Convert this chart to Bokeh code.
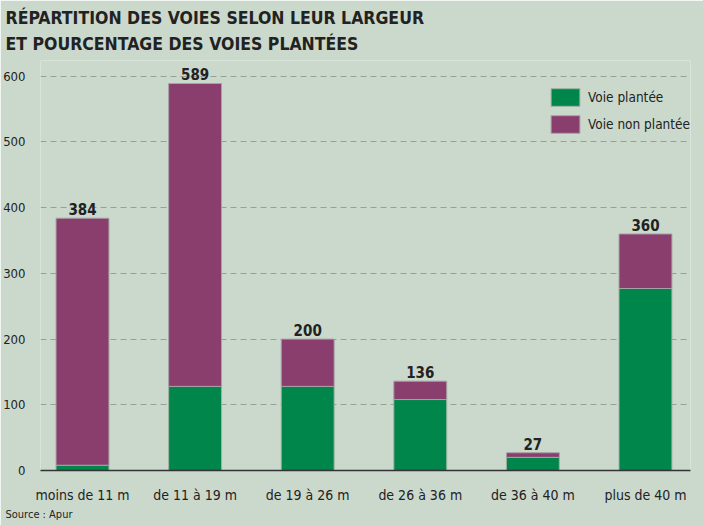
from bokeh.plotting import figure
from bokeh.models import ColumnDataSource, Range1d, FixedTicker, Legend, LegendItem, Title
from bokeh.core.properties import value
from bokeh.embed import file_html
from bokeh.resources import INLINE

categories = ["moins de 11 m", "de 11 à 19 m", "de 19 à 26 m", "de 26 à 36 m", "de 36 à 40 m", "plus de 40 m"]
totals = [384, 589, 200, 136, 27, 360]
plantee = [8, 128, 128, 108, 20, 277]
non_plantee = [t - g for t, g in zip(totals, plantee)]
y_ticks = [0, 100, 200, 300, 400, 500, 600]

BG = "#cbd9cc"
GREEN = "#00854a"
PURPLE = "#8a3e6e"
TXT = "#222222"
FONT = "DejaVu Sans Condensed, Roboto Condensed, Roboto"

xs = list(range(len(categories)))
src = ColumnDataSource(dict(
    x=xs, plantee=plantee, non=non_plantee, total=totals,
    label=[str(t) for t in totals],
))

p = figure(width=703, height=525, output_backend="svg", toolbar_location=None,
           x_range=Range1d(-0.373, 5.4), y_range=Range1d(0, 624),
           min_border_left=40, min_border_right=13, min_border_top=60, min_border_bottom=55,
           background_fill_color=BG, border_fill_color=BG, outline_line_color=None)

r1 = p.vbar(x="x", top="plantee", bottom=0, width=0.47, source=src,
            fill_color=GREEN, line_color="#9fb3a5", line_width=1)
r2 = p.vbar(x="x", top="total", bottom="plantee", width=0.47, source=src,
            fill_color=PURPLE, line_color="#a7a2a6", line_width=1)

p.text(x="x", y="total", text="label", source=src, text_align="center",
       text_baseline="bottom", y_offset=-3, text_font=value(FONT),
       text_font_style="bold", text_font_size="15px", text_color=TXT)

p.xaxis.ticker = FixedTicker(ticks=xs)
p.xaxis.major_label_overrides = {i: c for i, c in enumerate(categories)}
p.xaxis.major_tick_line_color = None
p.xaxis.minor_tick_line_color = None
p.xaxis.axis_line_color = "#333333"
p.xaxis.axis_line_width = 1.5
p.xaxis.major_label_text_font = FONT
p.xaxis.major_label_text_font_size = "14px"
p.xaxis.major_label_text_color = TXT
p.xaxis.major_label_standoff = 10

p.yaxis.ticker = FixedTicker(ticks=y_ticks)
p.yaxis.axis_line_color = None
p.yaxis.major_tick_line_color = None
p.yaxis.minor_tick_line_color = None
p.yaxis.major_label_text_font = FONT
p.yaxis.major_label_text_font_size = "13px"
p.yaxis.major_label_text_color = TXT
p.yaxis.major_label_standoff = 9

p.xgrid.grid_line_color = None
p.ygrid.ticker = FixedTicker(ticks=y_ticks[1:])
p.ygrid.grid_line_color = "#979f99"
p.ygrid.grid_line_dash = "6 4"
p.ygrid.grid_line_width = 1.2

legend = Legend(items=[LegendItem(label="Voie plantée", renderers=[r1]),
                       LegendItem(label="Voie non plantée", renderers=[r2])],
                location=(507, 335), glyph_width=36, glyph_height=22,
                label_text_font=FONT, label_text_font_size="13.5px", label_text_color=TXT,
                background_fill_alpha=0, border_line_color=None, padding=0, margin=0,
                spacing=5, label_standoff=5)
p.add_layout(legend, "center")

t2 = Title(text="ET POURCENTAGE DES VOIES PLANTÉES", align="left", offset=-35, standoff=13,
           text_font=FONT, text_font_style="bold", text_font_size="17.5px", text_color=TXT)
t1 = Title(text="RÉPARTITION DES VOIES SELON LEUR LARGEUR", align="left", offset=-35, standoff=-5,
           text_font=FONT, text_font_style="bold", text_font_size="17.5px", text_color=TXT)
p.add_layout(t2, "above")
p.add_layout(t1, "above")

src_title = Title(text="Source : Apur", align="left", offset=-35, standoff=0,
                  text_font=FONT, text_font_style="normal", text_font_size="11px", text_color=TXT)
p.add_layout(src_title, "below")

open("out.html", "w").write(file_html(p, INLINE))
